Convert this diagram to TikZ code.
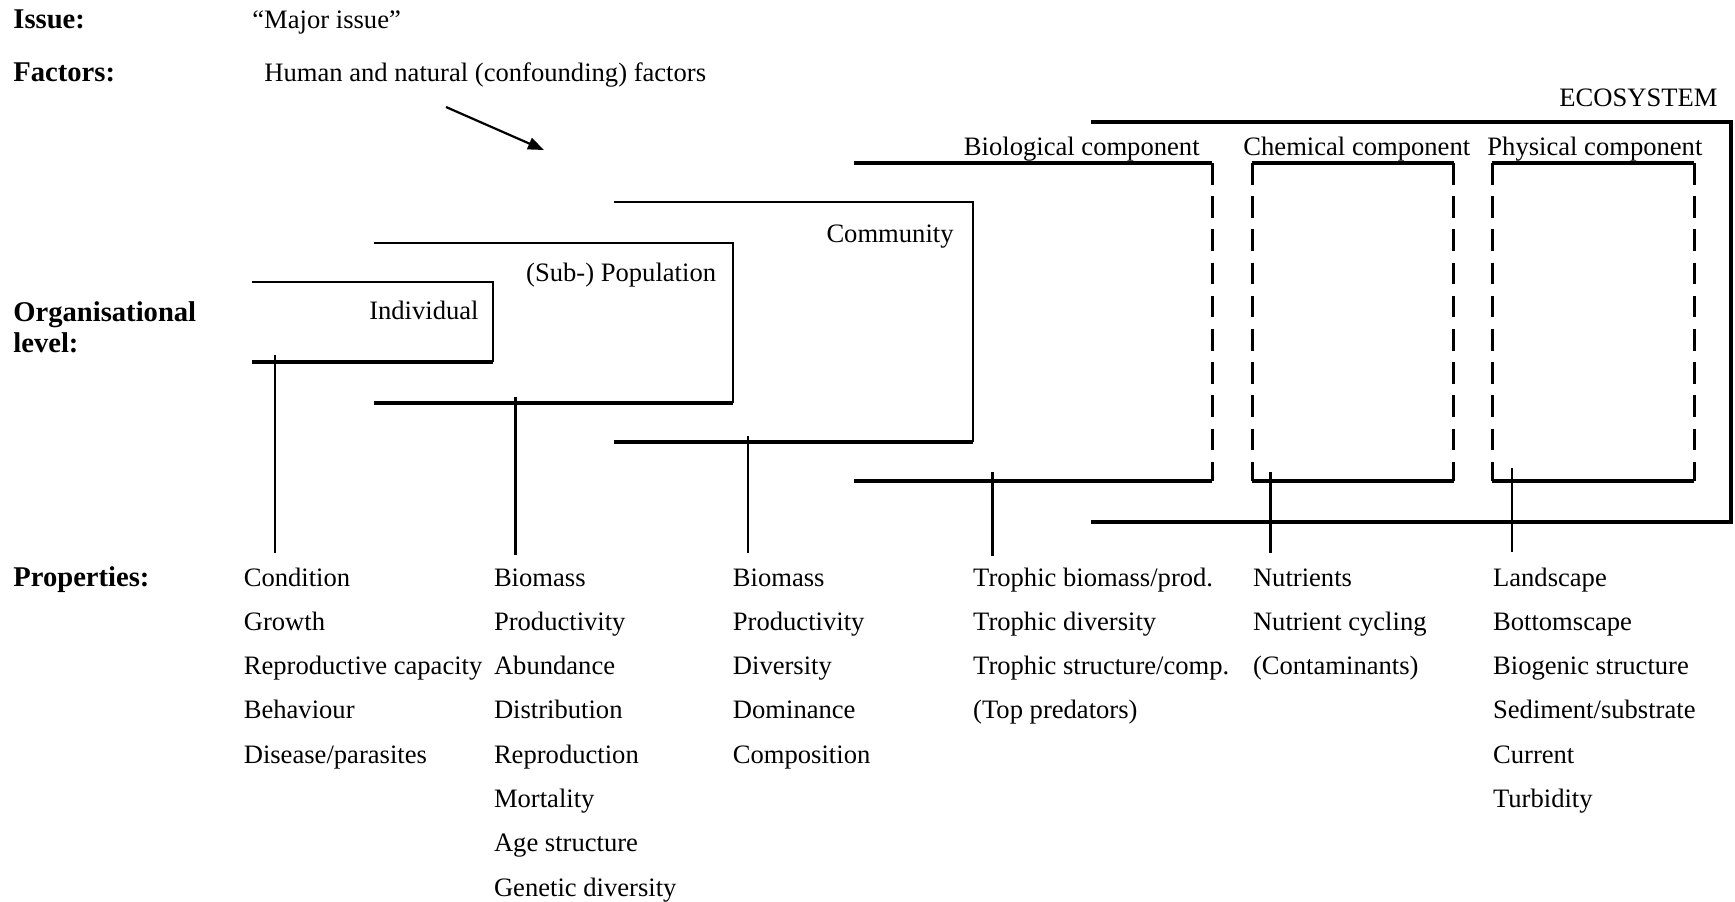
\documentclass[tikz,border=0pt]{standalone}
\usepackage{fontspec}
\setmainfont{Liberation Serif}
\usetikzlibrary{arrows.meta}
\begin{document}
\begin{tikzpicture}[x=0.5pt,y=-0.5pt,
  txt/.style={font=\fontsize{13.3}{16}\selectfont, inner sep=0pt, anchor=base west},
  txtr/.style={txt, anchor=base east},
  hdr/.style={font=\fontsize{14.3}{16}\selectfont\bfseries, inner sep=0pt, anchor=base west},
  lvtop/.style={line width=1pt},
  lvbot/.style={line width=1.6pt},
  stem/.style={line width=1.4pt},
  dsh/.style={line width=1.5pt, dash pattern=on 10.8pt off 5.8pt},
  arr/.style={line width=1.1pt, -{Triangle[length=8pt,width=6pt]}}]
\useasboundingbox (0,0) rectangle (1735,901);

% headings
\node[hdr] (issue) at (13,28) {Issue:};
\node[txt] (major) at (252,28) {``Major issue''};
\node[hdr] (factors) at (13,81) {Factors:};
\node[txt] (human) at (264,81) {Human and natural (confounding) factors};
\coordinate (arrS) at (446,107);
\coordinate (arrE) at (544,150);
\draw[arr] (arrS) -- (arrE);
\node[hdr] (org1) at (13,321.7) {Organisational};
\node[hdr] (org2) at (13,352.7) {level:};
\node[hdr] (props) at (13,586) {Properties:};

% level brackets
\coordinate (indTL) at (252,282); \coordinate (indTR) at (492.6,282);
\coordinate (indBL) at (252,362); \coordinate (indBR) at (492.6,362);
\draw[lvtop] (indTL) -- (indTR) -- (indBR);
\draw[lvbot] (indBL) -- (indBR);
\node[txtr] (ind) at (479,319) {Individual};

\coordinate (popTL) at (374,243); \coordinate (popTR) at (733,243);
\coordinate (popBL) at (374,403); \coordinate (popBR) at (733,403);
\draw[lvtop] (popTL) -- (popTR) -- (popBR);
\draw[lvbot] (popBL) -- (popBR);
\node[txtr] (pop) at (716.5,281) {(Sub-) Population};

\coordinate (comTL) at (614,202); \coordinate (comTR) at (973,202);
\coordinate (comBL) at (614,442); \coordinate (comBR) at (973,442);
\draw[lvtop] (comTL) -- (comTR) -- (comBR);
\draw[lvbot] (comBL) -- (comBR);
\node[txtr] (com) at (954,242) {Community};

% biological component
\coordinate (bioTL) at (854,163); \coordinate (bioTR) at (1212,163);
\coordinate (bioBL) at (854,481); \coordinate (bioBR) at (1212,481);
\draw[lvbot] (bioTL) -- (bioTR);
\draw[lvbot] (bioBL) -- (bioBR);
\draw[dsh] (bioTR) -- (bioBR);
\node[txtr] (bio) at (1200,155) {Biological component};

% chemical component
\coordinate (cheTL) at (1252,163); \coordinate (cheTR) at (1453.6,163);
\coordinate (cheBL) at (1252,481); \coordinate (cheBR) at (1453.6,481);
\draw[lvbot] (cheTL) -- (cheTR);
\draw[lvbot] (cheBL) -- (cheBR);
\draw[dsh] (cheTL) -- (cheBL);
\draw[dsh] (cheTR) -- (cheBR);
\node[txt] (che) at (1243,155) {Chemical component};

% physical component
\coordinate (phyTL) at (1492,163); \coordinate (phyTR) at (1694,163);
\coordinate (phyBL) at (1492,481); \coordinate (phyBR) at (1694,481);
\draw[lvbot] (phyTL) -- (phyTR);
\draw[lvbot] (phyBL) -- (phyBR);
\draw[dsh] (phyTL) -- (phyBL);
\draw[dsh] (phyTR) -- (phyBR);
\node[txt] (phy) at (1487,155) {Physical component};

% ecosystem
\coordinate (ecoTL) at (1091,122); \coordinate (ecoTR) at (1731,122);
\coordinate (ecoBL) at (1091,522); \coordinate (ecoBR) at (1731,522);
\draw[lvbot] (ecoTL) -- (ecoTR) -- (ecoBR) -- (ecoBL);
\node[txtr] (eco) at (1718,106) {ECOSYSTEM};

% property columns
\def\pyo{586}
\def\pdy{44.3}
\foreach \t [count=\i] in {Condition,Growth,Reproductive capacity,Behaviour,Disease/parasites}
  \node[txt] (pa\i) at (243.4,{\pyo+\pdy*(\i-1)}) {\t};
\foreach \t [count=\i] in {Biomass,Productivity,Abundance,Distribution,Reproduction,Mortality,Age structure,Genetic diversity}
  \node[txt] (pb\i) at (493.6,{\pyo+\pdy*(\i-1)}) {\t};
\foreach \t [count=\i] in {Biomass,Productivity,Diversity,Dominance,Composition}
  \node[txt] (pc\i) at (732.5,{\pyo+\pdy*(\i-1)}) {\t};
\foreach \t [count=\i] in {Trophic biomass/prod.,Trophic diversity,Trophic structure/comp.,(Top predators)}
  \node[txt] (pd\i) at (972.8,{\pyo+\pdy*(\i-1)}) {\t};
\foreach \t [count=\i] in {Nutrients,Nutrient cycling,(Contaminants)}
  \node[txt] (pe\i) at (1252.6,{\pyo+\pdy*(\i-1)}) {\t};
\foreach \t [count=\i] in {Landscape,Bottomscape,Biogenic structure,Sediment/substrate,Current,Turbidity}
  \node[txt] (pf\i) at (1492.7,{\pyo+\pdy*(\i-1)}) {\t};

% stems
\coordinate (sA) at (275,355);   \coordinate (eA) at (275,553);
\coordinate (sB) at (515.5,397); \coordinate (eB) at (515.5,555);
\coordinate (sC) at (748,436);   \coordinate (eC) at (748,553);
\coordinate (sD) at (992.5,472); \coordinate (eD) at (992.5,556);
\coordinate (sE) at (1270.5,472);\coordinate (eE) at (1270.5,553);
\coordinate (sF) at (1512,468);  \coordinate (eF) at (1512,552);
\foreach \s in {A,B,C,D,E,F} \draw[stem] (s\s) -- (e\s);
\end{tikzpicture}
\end{document}
